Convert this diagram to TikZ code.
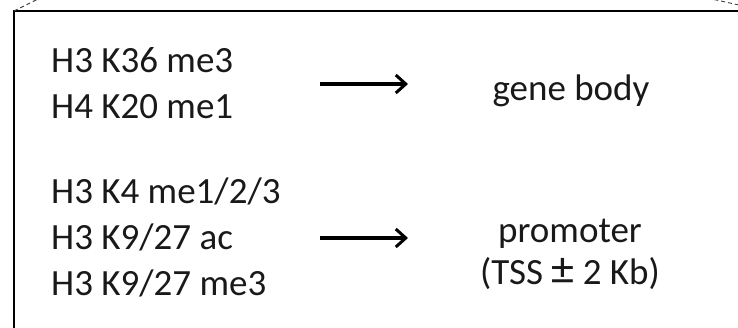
\documentclass[tikz,border=0pt]{standalone}
\usepackage{fontspec}
\setmainfont{Carlito}
\usetikzlibrary{arrows.meta}
\begin{document}
\begin{tikzpicture}[x=1pt,y=-1pt,
  lbl/.style={inner sep=0pt, text=black!90, font=\fontsize{37}{45}\selectfont},
  conn/.style={line width=3.4pt, -{Straight Barb[length=10pt,width=18pt,line width=3pt]}},
  frame/.style={line width=2pt},
  guide/.style={line width=0.9pt, dash pattern=on 4pt off 3pt, black!75}]
\useasboundingbox (0,0) rectangle (738,327);
% frame (open at right and bottom)
\draw[frame] (14,345) -- (14,11) -- (770,11);
% dashed guide lines
\draw[guide] (14,11) -- (40,-2);
\draw[guide] (766,11) -- (705,-2.5);
% left column
\node[lbl, anchor=base west] (k36) at (51,72) {H3 K36 me3};
\node[lbl, anchor=base west] (k20) at (51,118) {H4 K20 me1};
\node[lbl, anchor=base west] (k4) at (51,203) {H3 K4 me1/2/3};
\node[lbl, anchor=base west] (k9ac) at (51,249) {H3 K9/27 ac};
\node[lbl, anchor=base west] (k9me) at (51,295) {H3 K9/27 me3};
% right column
\node[lbl, anchor=base] (gb) at (571,100) {gene body};
\node[lbl, anchor=base] (prom) at (570,242) {promoter};
\node[lbl, anchor=base] (tss) at (570,284) {(TSS {\fontsize{46}{45}\selectfont ±} 2 Kb)};
% arrows
\coordinate (a1s) at (320,84);
\coordinate (a1e) at (408,84);
\coordinate (a2s) at (320,238);
\coordinate (a2e) at (408,238);
\draw[conn] (a1s) -- (a1e);
\draw[conn] (a2s) -- (a2e);
\end{tikzpicture}
\end{document}
